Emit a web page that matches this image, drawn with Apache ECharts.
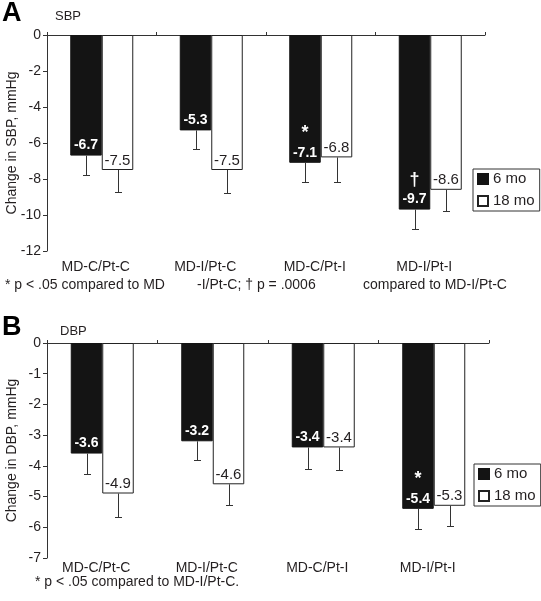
<!DOCTYPE html>
<html>
<head>
<meta charset="utf-8">
<script src="https://cdn.jsdelivr.net/npm/echarts@6/dist/echarts.min.js"></script>
<style>html,body{margin:0;padding:0;background:#fff;}#c{width:541px;height:601px;}</style>
</head>
<body>
<div id="c"></div>
<script>
var categories = ['MD-C/Pt-C', 'MD-I/Pt-C', 'MD-C/Pt-I', 'MD-I/Pt-I'];
var seriesNames = ['6 mo', '18 mo'];
var sbp6 = [-6.7, -5.3, -7.1, -9.7];
var sbp18 = [-7.5, -7.5, -6.8, -8.6];
var sbpErr6 = [1.1, 1.03, 1.05, 1.1];
var sbpErr18 = [1.24, 1.26, 1.35, 1.2];
var sbpMark6 = ['', '', '*', '\u2020'];
var dbp6 = [-3.6, -3.2, -3.4, -5.4];
var dbp18 = [-4.9, -4.6, -3.4, -5.3];
var dbpErr6 = [0.67, 0.62, 0.7, 0.65];
var dbpErr18 = [0.77, 0.69, 0.75, 0.67];
var dbpMark6 = ['', '', '', '*'];
var sbpTicks = {min: -12, max: 0, interval: 2};
var dbpTicks = {min: -7, max: 0, interval: 1};

var FONT = '"Liberation Sans", Arial, sans-serif';
var TXT = '#231f20';
var BAR_W = 31.5;

function errRender(sign) {
  return function (params, api) {
    var x = api.value(0), v = api.value(1), e = api.value(2);
    var p0 = api.coord([x, v]);
    var p1 = api.coord([x, v - e]);
    var cx = Math.round(p0[0] + sign * BAR_W / 2) + 0.5;
    var y1 = Math.round(p1[1]) + 0.5;
    var st = {stroke: '#333', lineWidth: 1};
    return {type: 'group', children: [
      {type: 'line', shape: {x1: cx, y1: p0[1], x2: cx, y2: y1}, style: st},
      {type: 'line', shape: {x1: cx - 3.5, y1: y1, x2: cx + 3.5, y2: y1}, style: st}
    ]};
  };
}
function errData(vals, errs) {
  return vals.map(function (v, i) { return [i, v, errs[i]]; });
}
function label6(marks) {
  return {
    show: true, position: 'insideBottom', distance: 2,
    formatter: function (p) {
      var m = marks[p.dataIndex];
      var s = '{v|' + p.value + '}';
      return m ? '{s|' + m + '}\n' + s : s;
    },
    rich: {
      v: {color: '#fff', fontWeight: 'bold', fontSize: 14, fontFamily: FONT, lineHeight: 16},
      s: {color: '#fff', fontWeight: 'bold', fontSize: 18, fontFamily: FONT, lineHeight: 24}
    }
  };
}
var label18 = {show: true, position: 'insideBottom', distance: 2, color: TXT, fontSize: 15, fontFamily: FONT};

function yAxis(idx, t, name) {
  return {
    type: 'value', gridIndex: idx, min: t.min, max: t.max, interval: t.interval,
    name: name, nameLocation: 'middle', nameGap: 28, nameMoveOverlap: false,
    nameTextStyle: {fontSize: 14, color: TXT, fontFamily: FONT},
    axisLine: {show: true, lineStyle: {color: '#333', width: 1}},
    axisTick: {show: true, length: 4, lineStyle: {color: '#333'}},
    axisLabel: {fontSize: 14, color: TXT, fontFamily: FONT, margin: 6},
    splitLine: {show: false}
  };
}
function xTop(idx) {
  return {
    type: 'category', gridIndex: idx, data: categories, position: 'top',
    axisLine: {show: true, onZero: false, lineStyle: {color: '#333', width: 1}},
    axisTick: {show: true, length: 3, lineStyle: {color: '#333'}},
    axisLabel: {show: false}
  };
}
function xBottom(idx, margin) {
  return {
    type: 'category', gridIndex: idx, data: categories, position: 'bottom',
    axisLine: {show: false}, axisTick: {show: false},
    axisLabel: {show: true, fontSize: 14, color: TXT, fontFamily: FONT, margin: margin, padding: [0, 12, 0, 0]}
  };
}
function legend(left, top) {
  return {
    data: seriesNames, orient: 'vertical', left: left, top: top,
    itemWidth: 10, itemHeight: 10, itemGap: 6,
    borderColor: '#333', borderWidth: 1, padding: [2, 5, 2, 4],
    icon: 'rect',
    textStyle: {fontSize: 15, color: TXT, fontFamily: FONT, lineHeight: 16, padding: [0, 0, 0, 0]}
  };
}

var option = {
  animation: false,
  backgroundColor: '#fff',
  grid: [
    {left: 47, top: 35, width: 438, height: 216, outerBoundsMode: 'none', containLabel: false},
    {left: 47, top: 343, width: 442, height: 215, outerBoundsMode: 'none', containLabel: false}
  ],
  xAxis: [xTop(0), xBottom(0, 9), xTop(1), xBottom(1, 3)],
  yAxis: [yAxis(0, sbpTicks, 'Change in SBP, mmHg'), yAxis(1, dbpTicks, 'Change in DBP, mmHg')],
  legend: [legend(473, 169), legend(474, 464)],
  graphic: [
    {type: 'text', left: 2, top: 0, style: {text: 'A', font: 'bold 27px ' + FONT, fill: '#000'}},
    {type: 'text', left: 55, top: 10, style: {text: 'SBP', font: '13px ' + FONT, fill: TXT}},
    {type: 'text', left: 5, top: 278, style: {text: '* p < .05 compared to MD', font: '14px ' + FONT, fill: TXT}},
    {type: 'text', left: 197, top: 278, style: {text: '-I/Pt-C; \u2020 p = .0006', font: '14px ' + FONT, fill: TXT}},
    {type: 'text', left: 363, top: 278, style: {text: 'compared to MD-I/Pt-C', font: '14px ' + FONT, fill: TXT}},
    {type: 'text', left: 2, top: 314, style: {text: 'B', font: 'bold 27px ' + FONT, fill: '#000'}},
    {type: 'text', left: 60, top: 325, style: {text: 'DBP', font: '13px ' + FONT, fill: TXT}},
    {type: 'text', left: 35, top: 575, style: {text: '* p < .05 compared to MD-I/Pt-C.', font: '14px ' + FONT, fill: TXT}}
  ],
  series: [
    {name: '6 mo', type: 'bar', xAxisIndex: 0, yAxisIndex: 0, data: sbp6, barWidth: BAR_W, barGap: '0%',
     itemStyle: {color: '#141414', borderColor: '#141414', borderWidth: 1}, label: label6(sbpMark6)},
    {name: '18 mo', type: 'bar', xAxisIndex: 0, yAxisIndex: 0, data: sbp18, barWidth: BAR_W, barGap: '0%',
     itemStyle: {color: '#fff', borderColor: '#222', borderWidth: 1}, label: label18},
    {name: 'err6a', type: 'custom', xAxisIndex: 0, yAxisIndex: 0, renderItem: errRender(-1), data: errData(sbp6, sbpErr6), z: 5},
    {name: 'err18a', type: 'custom', xAxisIndex: 0, yAxisIndex: 0, renderItem: errRender(1), data: errData(sbp18, sbpErr18), z: 5},
    {name: '6 mo', type: 'bar', xAxisIndex: 2, yAxisIndex: 1, data: dbp6, barWidth: BAR_W, barGap: '0%',
     itemStyle: {color: '#141414', borderColor: '#141414', borderWidth: 1}, label: label6(dbpMark6)},
    {name: '18 mo', type: 'bar', xAxisIndex: 2, yAxisIndex: 1, data: dbp18, barWidth: BAR_W, barGap: '0%',
     itemStyle: {color: '#fff', borderColor: '#222', borderWidth: 1}, label: label18},
    {name: 'err6b', type: 'custom', xAxisIndex: 2, yAxisIndex: 1, renderItem: errRender(-1), data: errData(dbp6, dbpErr6), z: 5},
    {name: 'err18b', type: 'custom', xAxisIndex: 2, yAxisIndex: 1, renderItem: errRender(1), data: errData(dbp18, dbpErr18), z: 5}
  ]
};
var chart = echarts.init(document.getElementById('c'), null, {renderer: 'canvas'});
chart.setOption(option);
</script>
</body>
</html>
